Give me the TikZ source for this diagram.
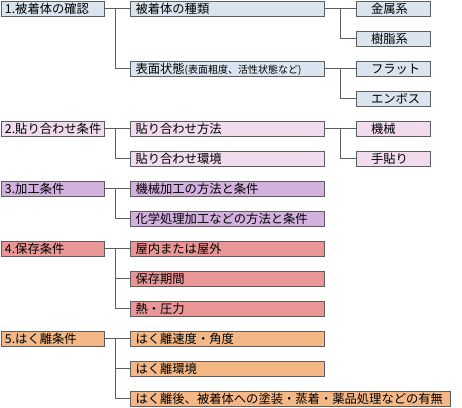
\documentclass[tikz,border=0pt]{standalone}
\usepackage{fontspec}
\setmainfont{Noto Sans CJK JP}
\definecolor{boxline}{HTML}{5E5E5E}
\definecolor{fillA}{HTML}{D9E4EE}
\definecolor{fillB}{HTML}{F0DBEF}
\definecolor{fillC}{HTML}{D3B1DE}
\definecolor{fillD}{HTML}{EA9696}
\definecolor{fillE}{HTML}{F3B886}
\tikzset{
  box/.style={draw=boxline, line width=1pt, anchor=north west, minimum height=15pt,
    inner ysep=0pt, align=left, text height=10.5pt, text depth=1.5pt,
    font=\fontsize{12.3}{12.3}\selectfont},
  cat/.style={box, inner xsep=4pt, text width=95pt},
  item/.style={box, inner xsep=5.5pt, text width=183pt},
  wideitem/.style={box, inner xsep=5.5pt, text width=309pt},
  sub/.style={box, inner xsep=4pt, text width=66.5pt, execute at begin node=\hspace*{11pt}},
  link/.style={draw=boxline, line width=1pt}
}
\newcommand{\smalltxt}[1]{{\fontsize{10}{10}\selectfont #1}}
\begin{document}
\begin{tikzpicture}[x=1pt, y=-1pt]
  \useasboundingbox (0,0) rectangle (462,407);

  % 1
  \node [cat, fill=fillA] (c1) at (0.5, 0.5) {1.被着体の確認};
  \node [item, fill=fillA] (c1a) at (129.5, 0.5) {被着体の種類};
  \node [item, fill=fillA] (c1b) at (129.5, 60.5) {表面状態\smalltxt{(表面粗度、活性状態など)}};
  \node [sub, fill=fillA] (m1) at (355.5, 0.5) {金属系};
  \node [sub, fill=fillA] (m2) at (355.5, 30.5) {樹脂系};
  \node [sub, fill=fillA] (f1) at (355.5, 60.5) {フラット};
  \node [sub, fill=fillA] (f2) at (355.5, 90.5) {エンボス};

  % 2
  \node [cat, fill=fillB] (c2) at (0.5, 120.5) {2.貼り合わせ条件};
  \node [item, fill=fillB] (c2a) at (129.5, 120.5) {貼り合わせ方法};
  \node [item, fill=fillB] (c2b) at (129.5, 150.5) {貼り合わせ環境};
  \node [sub, fill=fillB] (h1) at (355.5, 120.5) {機械};
  \node [sub, fill=fillB] (h2) at (355.5, 150.5) {手貼り};

  % 3
  \node [cat, fill=fillC] (c3) at (0.5, 180.5) {3.加工条件};
  \node [item, fill=fillC] (c3a) at (129.5, 180.5) {機械加工の方法と条件};
  \node [item, fill=fillC] (c3b) at (129.5, 210.5) {化学処理加工などの方法と条件};

  % 4
  \node [cat, fill=fillD] (c4) at (0.5, 240.5) {4.保存条件};
  \node [item, fill=fillD] (c4a) at (129.5, 240.5) {屋内または屋外};
  \node [item, fill=fillD] (c4b) at (129.5, 270.5) {保存期間};
  \node [item, fill=fillD] (c4c) at (129.5, 300.5) {熱・圧力};

  % 5
  \node [cat, fill=fillE] (c5) at (0.5, 330.5) {5.はく離条件};
  \node [item, fill=fillE] (c5a) at (129.5, 330.5) {はく離速度・角度};
  \node [item, fill=fillE] (c5b) at (129.5, 360.5) {はく離環境};
  \node [wideitem, fill=fillE] (c5c) at (129.5, 390.5) {はく離後、被着体への塗装・蒸着・薬品処理などの有無};

  % junctions
  \coordinate (j1) at (115.5, 8);
  \coordinate (j2) at (115.5, 128);
  \coordinate (j3) at (115.5, 188);
  \coordinate (j4) at (115.5, 248);
  \coordinate (j5) at (115.5, 338);
  \coordinate (k1) at (340, 8);
  \coordinate (k2) at (340, 68);
  \coordinate (k3) at (340, 128);

  \draw [link] (c1.east) -- (c1a.west);
  \draw [link] (j1) |- (c1b.west);
  \draw [link] (c1a.east) -- (m1.west);
  \draw [link] (k1) |- (m2.west);
  \draw [link] (c1b.east) -- (f1.west);
  \draw [link] (k2) |- (f2.west);

  \draw [link] (c2.east) -- (c2a.west);
  \draw [link] (j2) |- (c2b.west);
  \draw [link] (c2a.east) -- (h1.west);
  \draw [link] (k3) |- (h2.west);

  \draw [link] (c3.east) -- (c3a.west);
  \draw [link] (j3) |- (c3b.west);

  \draw [link] (c4.east) -- (c4a.west);
  \draw [link] (j4) |- (c4b.west);
  \draw [link] (j4) |- (c4c.west);

  \draw [link] (c5.east) -- (c5a.west);
  \draw [link] (j5) |- (c5b.west);
  \draw [link] (j5) |- (c5c.west);
\end{tikzpicture}
\end{document}
